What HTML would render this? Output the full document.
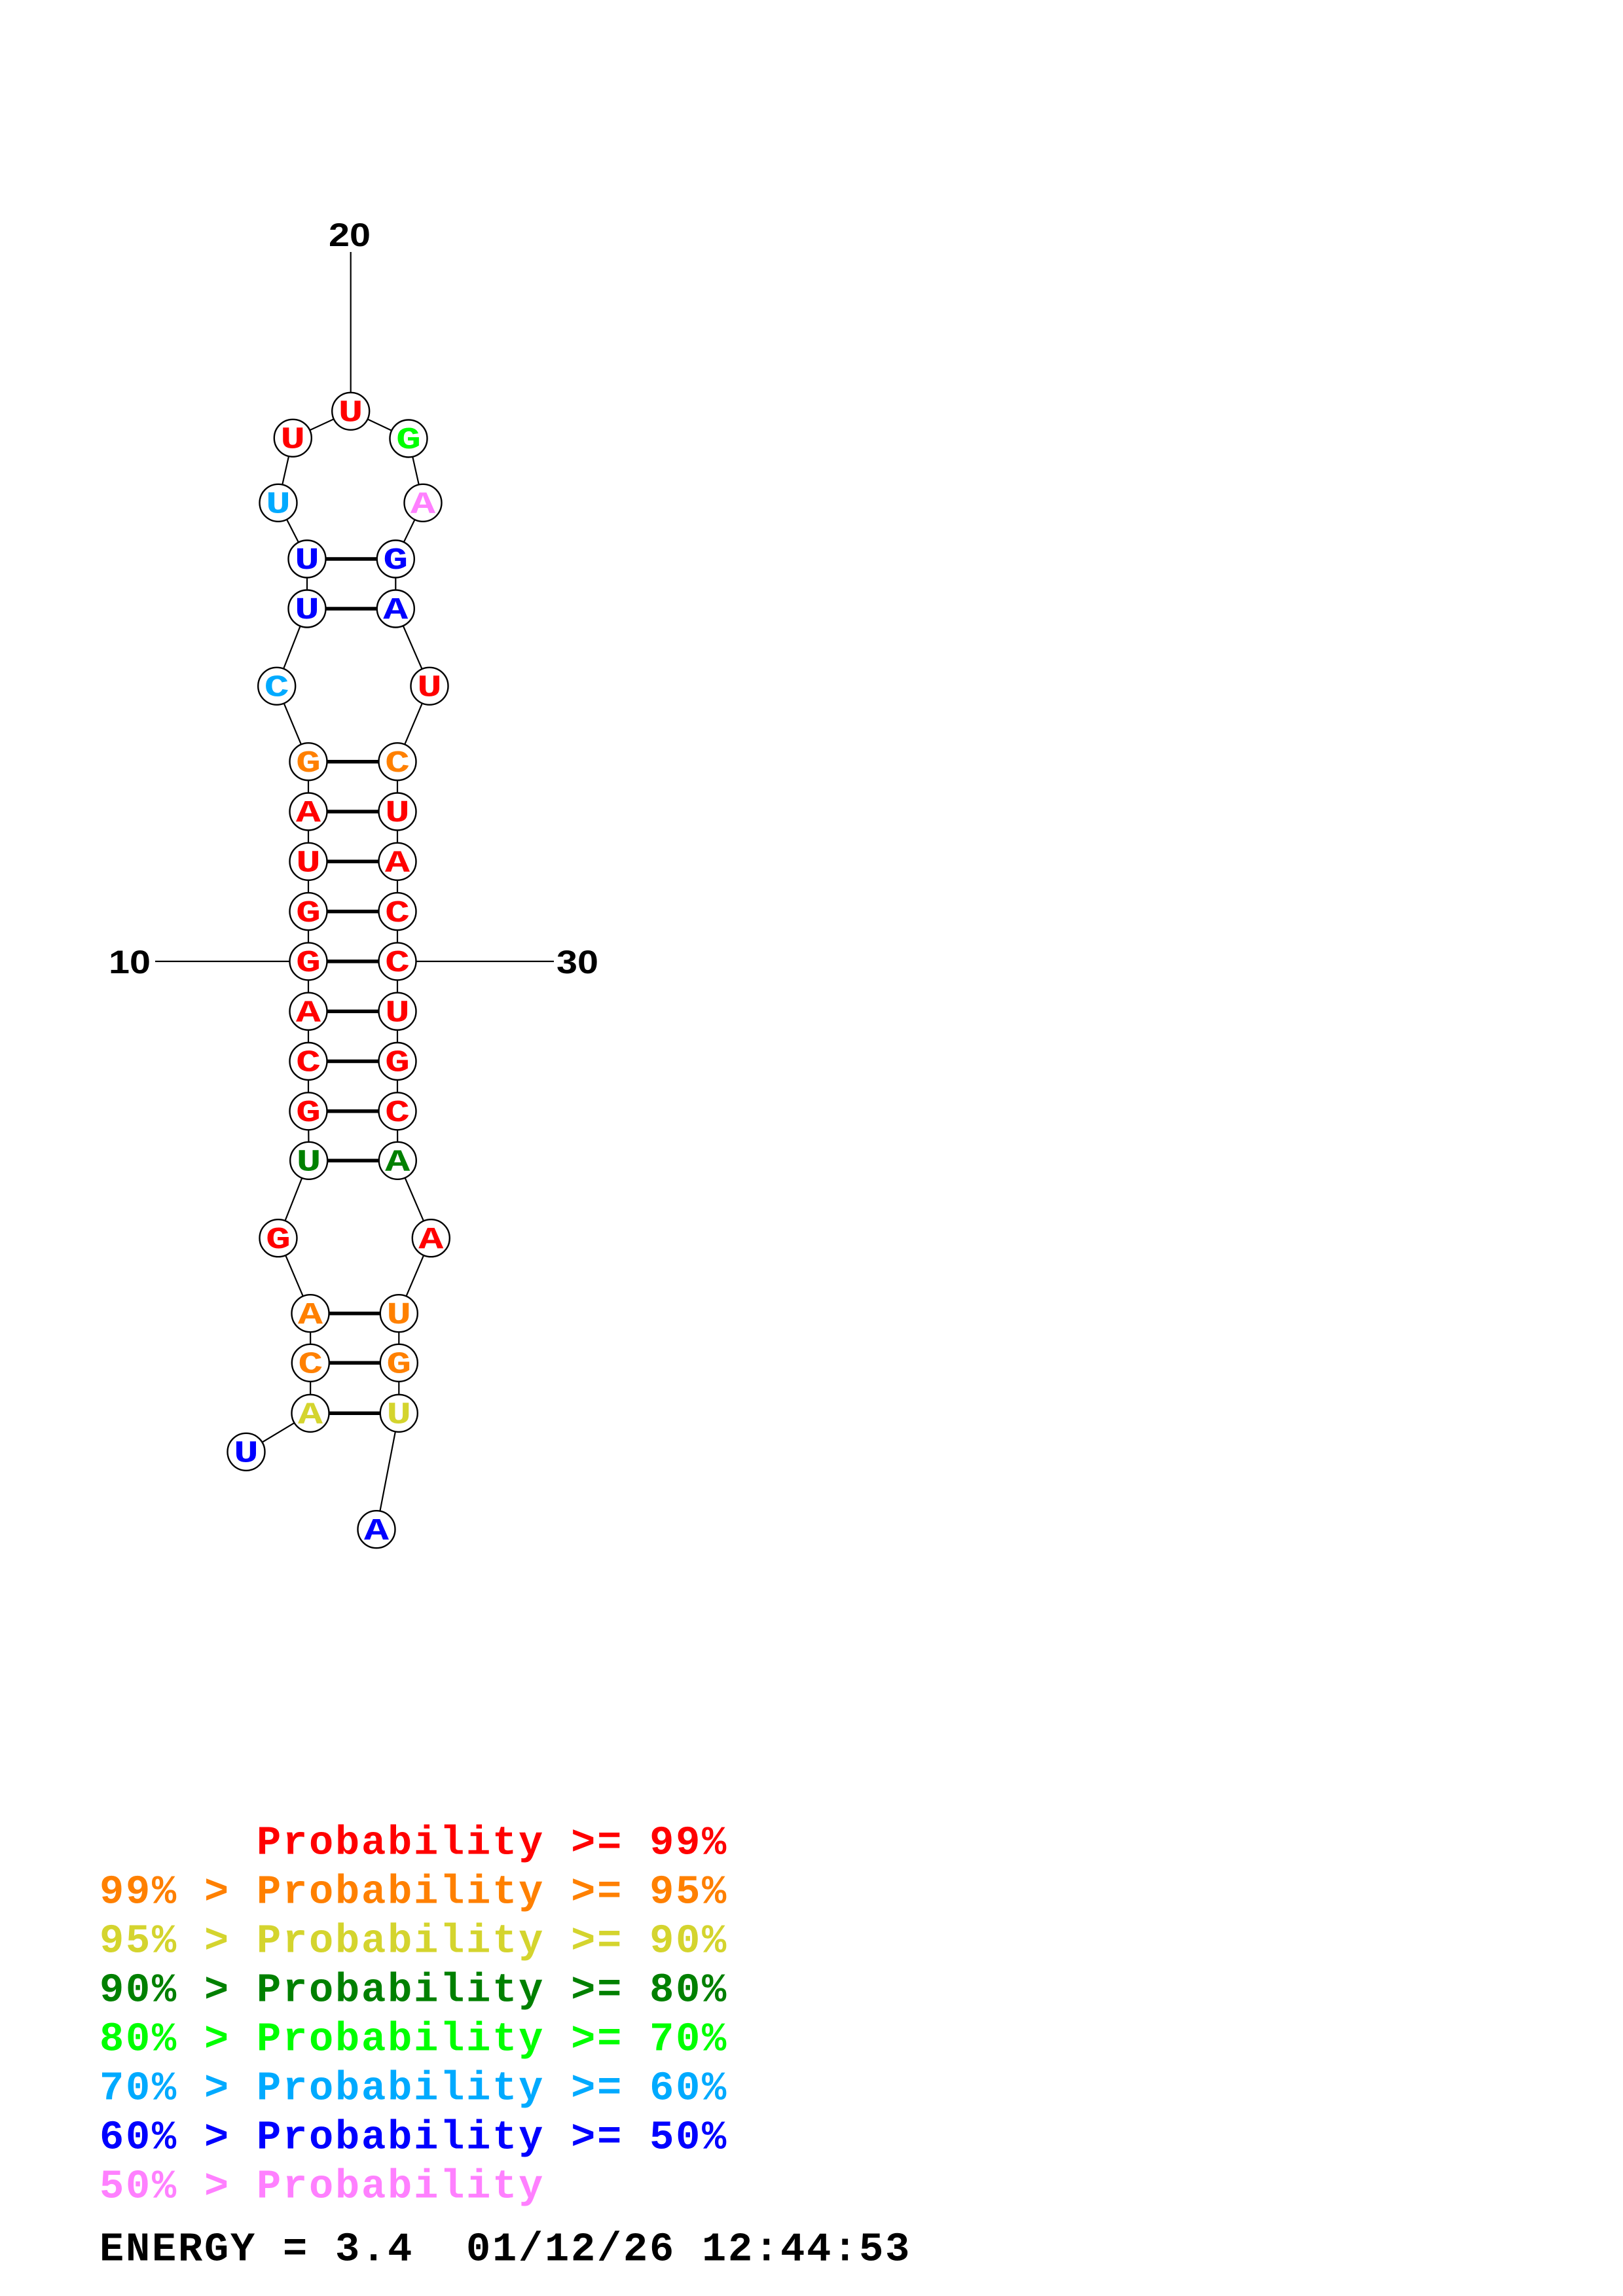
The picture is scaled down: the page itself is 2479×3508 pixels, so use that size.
<!DOCTYPE html>
<html>
<head>
<meta charset="utf-8">
<style>
html,body{margin:0;padding:0;background:#fff;}
svg{display:block;}
.lg{font-family:"Liberation Mono",monospace;font-weight:bold;font-size:62px;letter-spacing:2.8px;}
.nt{font-family:"Liberation Mono",monospace;font-weight:bold;font-size:47px;}
.num{font-family:"Liberation Sans",sans-serif;font-weight:bold;font-size:50px;}
</style>
</head>
<body>
<svg width="2479" height="3508" viewBox="0 0 2479 3508" xmlns="http://www.w3.org/2000/svg">
<rect x="0" y="0" width="2479" height="3508" fill="#fff"/>

<!-- label lines -->
<g stroke="#000" stroke-width="2.2" fill="none">
<line x1="535.7" y1="385" x2="535.7" y2="628.3"/>
<line x1="237" y1="1468.9" x2="471" y2="1468.9"/>
<line x1="607" y1="1468.9" x2="846" y2="1468.9"/>
</g>

<!-- backbone -->
<polyline fill="none" stroke="#000" stroke-width="2.2" points="376,2218.3 474,2159.3 474.3,2082.3 474,2006.7 425,1891.7 471.7,1773.3 471,1697.8 471,1621.5 471,1545.2 471,1468.9 471,1392.6 471,1316.3 471,1240 471,1163.7 422.7,1048.3 469,930 469,854 425,768.3 447.3,669.3 535.7,628.3 624,670 646,768.3 604.3,854 604.3,930 656,1048.3 607,1163.7 607,1240 607,1316.3 607,1392.6 607,1468.9 607,1545.2 607,1621.5 607,1697.8 607.3,1773.3 658.3,1891.7 609.3,2006.7 609.3,2082.3 609.3,2159.3 575,2336.7"/>

<!-- pairs -->
<g stroke="#000" stroke-width="5.5">
<line x1="474" y1="2159.3" x2="609.3" y2="2159.3"/>
<line x1="474.3" y1="2082.3" x2="609.3" y2="2082.3"/>
<line x1="474" y1="2006.7" x2="609.3" y2="2006.7"/>
<line x1="471.7" y1="1773.3" x2="607.3" y2="1773.3"/>
<line x1="471" y1="1697.8" x2="607" y2="1697.8"/>
<line x1="471" y1="1621.5" x2="607" y2="1621.5"/>
<line x1="471" y1="1545.2" x2="607" y2="1545.2"/>
<line x1="471" y1="1468.9" x2="607" y2="1468.9"/>
<line x1="471" y1="1392.6" x2="607" y2="1392.6"/>
<line x1="471" y1="1316.3" x2="607" y2="1316.3"/>
<line x1="471" y1="1240" x2="607" y2="1240"/>
<line x1="471" y1="1163.7" x2="607" y2="1163.7"/>
<line x1="469" y1="930" x2="604.3" y2="930"/>
<line x1="469" y1="854" x2="604.3" y2="854"/>
</g>

<!-- nodes -->
<g fill="#fff" stroke="#000" stroke-width="2.4">
<circle cx="376" cy="2218.3" r="28.5"/>
<circle cx="474" cy="2159.3" r="28.5"/>
<circle cx="474.3" cy="2082.3" r="28.5"/>
<circle cx="474" cy="2006.7" r="28.5"/>
<circle cx="425" cy="1891.7" r="28.5"/>
<circle cx="471.7" cy="1773.3" r="28.5"/>
<circle cx="471" cy="1697.8" r="28.5"/>
<circle cx="471" cy="1621.5" r="28.5"/>
<circle cx="471" cy="1545.2" r="28.5"/>
<circle cx="471" cy="1468.9" r="28.5"/>
<circle cx="471" cy="1392.6" r="28.5"/>
<circle cx="471" cy="1316.3" r="28.5"/>
<circle cx="471" cy="1240" r="28.5"/>
<circle cx="471" cy="1163.7" r="28.5"/>
<circle cx="422.7" cy="1048.3" r="28.5"/>
<circle cx="469" cy="930" r="28.5"/>
<circle cx="469" cy="854" r="28.5"/>
<circle cx="425" cy="768.3" r="28.5"/>
<circle cx="447.3" cy="669.3" r="28.5"/>
<circle cx="535.7" cy="628.3" r="28.5"/>
<circle cx="624" cy="670" r="28.5"/>
<circle cx="646" cy="768.3" r="28.5"/>
<circle cx="604.3" cy="854" r="28.5"/>
<circle cx="604.3" cy="930" r="28.5"/>
<circle cx="656" cy="1048.3" r="28.5"/>
<circle cx="607" cy="1163.7" r="28.5"/>
<circle cx="607" cy="1240" r="28.5"/>
<circle cx="607" cy="1316.3" r="28.5"/>
<circle cx="607" cy="1392.6" r="28.5"/>
<circle cx="607" cy="1468.9" r="28.5"/>
<circle cx="607" cy="1545.2" r="28.5"/>
<circle cx="607" cy="1621.5" r="28.5"/>
<circle cx="607" cy="1697.8" r="28.5"/>
<circle cx="607.3" cy="1773.3" r="28.5"/>
<circle cx="658.3" cy="1891.7" r="28.5"/>
<circle cx="609.3" cy="2006.7" r="28.5"/>
<circle cx="609.3" cy="2082.3" r="28.5"/>
<circle cx="609.3" cy="2159.3" r="28.5"/>
<circle cx="575" cy="2336.7" r="28.5"/>
</g>

<!-- node letters -->
<g class="nt" text-anchor="middle">
<text x="376" y="2233.5" fill="#0000FF" textLength="38" lengthAdjust="spacingAndGlyphs">U</text>
<text x="474" y="2174.5" fill="#D4D42E" textLength="38" lengthAdjust="spacingAndGlyphs">A</text>
<text x="474.3" y="2097.5" fill="#FF8000" textLength="38" lengthAdjust="spacingAndGlyphs">C</text>
<text x="474" y="2021.9" fill="#FF8000" textLength="38" lengthAdjust="spacingAndGlyphs">A</text>
<text x="425" y="1906.9" fill="#FF0000" textLength="38" lengthAdjust="spacingAndGlyphs">G</text>
<text x="471.7" y="1788.5" fill="#008000" textLength="38" lengthAdjust="spacingAndGlyphs">U</text>
<text x="471" y="1713" fill="#FF0000" textLength="38" lengthAdjust="spacingAndGlyphs">G</text>
<text x="471" y="1636.7" fill="#FF0000" textLength="38" lengthAdjust="spacingAndGlyphs">C</text>
<text x="471" y="1560.4" fill="#FF0000" textLength="38" lengthAdjust="spacingAndGlyphs">A</text>
<text x="471" y="1484.1" fill="#FF0000" textLength="38" lengthAdjust="spacingAndGlyphs">G</text>
<text x="471" y="1407.8" fill="#FF0000" textLength="38" lengthAdjust="spacingAndGlyphs">G</text>
<text x="471" y="1331.5" fill="#FF0000" textLength="38" lengthAdjust="spacingAndGlyphs">U</text>
<text x="471" y="1255.2" fill="#FF0000" textLength="38" lengthAdjust="spacingAndGlyphs">A</text>
<text x="471" y="1178.9" fill="#FF8000" textLength="38" lengthAdjust="spacingAndGlyphs">G</text>
<text x="422.7" y="1063.5" fill="#00AAFF" textLength="38" lengthAdjust="spacingAndGlyphs">C</text>
<text x="469" y="945.2" fill="#0000FF" textLength="38" lengthAdjust="spacingAndGlyphs">U</text>
<text x="469" y="869.2" fill="#0000FF" textLength="38" lengthAdjust="spacingAndGlyphs">U</text>
<text x="425" y="783.5" fill="#00AAFF" textLength="38" lengthAdjust="spacingAndGlyphs">U</text>
<text x="447.3" y="684.5" fill="#FF0000" textLength="38" lengthAdjust="spacingAndGlyphs">U</text>
<text x="535.7" y="643.5" fill="#FF0000" textLength="38" lengthAdjust="spacingAndGlyphs">U</text>
<text x="624" y="685.2" fill="#00FF00" textLength="38" lengthAdjust="spacingAndGlyphs">G</text>
<text x="646" y="783.5" fill="#FF80FF" textLength="38" lengthAdjust="spacingAndGlyphs">A</text>
<text x="604.3" y="869.2" fill="#0000FF" textLength="38" lengthAdjust="spacingAndGlyphs">G</text>
<text x="604.3" y="945.2" fill="#0000FF" textLength="38" lengthAdjust="spacingAndGlyphs">A</text>
<text x="656" y="1063.5" fill="#FF0000" textLength="38" lengthAdjust="spacingAndGlyphs">U</text>
<text x="607" y="1178.9" fill="#FF8000" textLength="38" lengthAdjust="spacingAndGlyphs">C</text>
<text x="607" y="1255.2" fill="#FF0000" textLength="38" lengthAdjust="spacingAndGlyphs">U</text>
<text x="607" y="1331.5" fill="#FF0000" textLength="38" lengthAdjust="spacingAndGlyphs">A</text>
<text x="607" y="1407.8" fill="#FF0000" textLength="38" lengthAdjust="spacingAndGlyphs">C</text>
<text x="607" y="1484.1" fill="#FF0000" textLength="38" lengthAdjust="spacingAndGlyphs">C</text>
<text x="607" y="1560.4" fill="#FF0000" textLength="38" lengthAdjust="spacingAndGlyphs">U</text>
<text x="607" y="1636.7" fill="#FF0000" textLength="38" lengthAdjust="spacingAndGlyphs">G</text>
<text x="607" y="1713" fill="#FF0000" textLength="38" lengthAdjust="spacingAndGlyphs">C</text>
<text x="607.3" y="1788.5" fill="#008000" textLength="38" lengthAdjust="spacingAndGlyphs">A</text>
<text x="658.3" y="1906.9" fill="#FF0000" textLength="38" lengthAdjust="spacingAndGlyphs">A</text>
<text x="609.3" y="2021.9" fill="#FF8000" textLength="38" lengthAdjust="spacingAndGlyphs">U</text>
<text x="609.3" y="2097.5" fill="#FF8000" textLength="38" lengthAdjust="spacingAndGlyphs">G</text>
<text x="609.3" y="2174.5" fill="#D4D42E" textLength="38" lengthAdjust="spacingAndGlyphs">U</text>
<text x="575" y="2351.9" fill="#0000FF" textLength="38" lengthAdjust="spacingAndGlyphs">A</text>
</g>

<!-- position labels -->
<g class="num" fill="#000">
<text x="502" y="376" textLength="64" lengthAdjust="spacingAndGlyphs">20</text>
<text x="166" y="1487" textLength="64" lengthAdjust="spacingAndGlyphs">10</text>
<text x="850" y="1487" textLength="64" lengthAdjust="spacingAndGlyphs">30</text>
</g>

<!-- legend -->
<g class="lg">
<text x="392" y="2832.7" fill="#FF0000">Probability &gt;= 99%</text>
<text x="152" y="2907.7" fill="#FF8000">99% &gt; Probability &gt;= 95%</text>
<text x="152" y="2982.7" fill="#D4D42E">95% &gt; Probability &gt;= 90%</text>
<text x="152" y="3057.7" fill="#008000">90% &gt; Probability &gt;= 80%</text>
<text x="152" y="3132.7" fill="#00FF00">80% &gt; Probability &gt;= 70%</text>
<text x="152" y="3207.7" fill="#00AAFF">70% &gt; Probability &gt;= 60%</text>
<text x="152" y="3282.7" fill="#0000FF">60% &gt; Probability &gt;= 50%</text>
<text x="152" y="3357.7" fill="#FF80FF">50% &gt; Probability</text>
<text x="152" y="3453.5" fill="#000000">ENERGY = 3.4</text>
<text x="712" y="3453.5" fill="#000000">01/12/26 12:44:53</text>
</g>
</svg>
</body>
</html>
